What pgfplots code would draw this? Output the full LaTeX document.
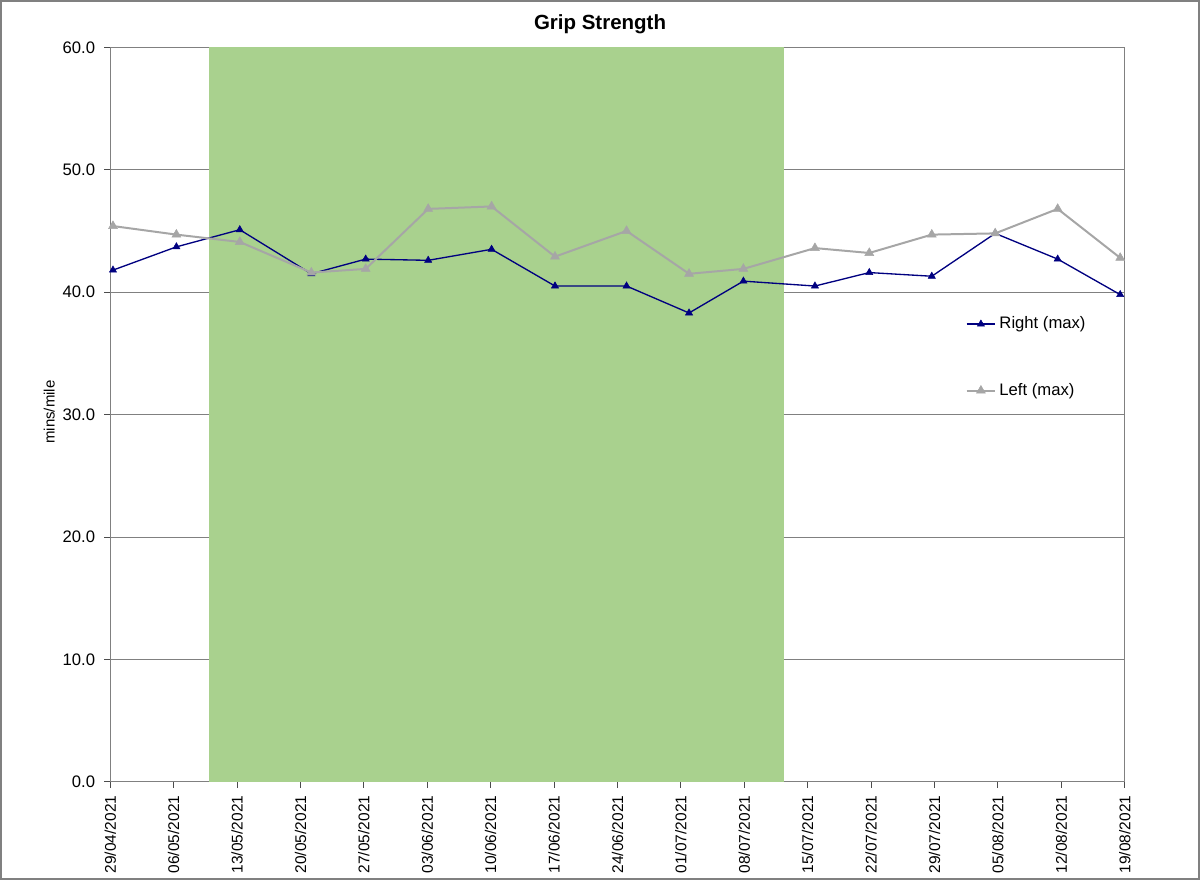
\documentclass[border=0pt]{standalone}
\usepackage{fontspec}
\setmainfont{Liberation Sans}
\usepackage{pgfplots}
\pgfplotsset{compat=1.18}

\definecolor{bandgreen}{HTML}{A9D18E}
\definecolor{rightblue}{HTML}{000080}
\definecolor{leftgray}{HTML}{A6A6A6}
\definecolor{gridgray}{HTML}{808080}

\begin{document}
\begin{tikzpicture}
\begin{axis}[
  name=main,
  width=609pt, height=441pt, scale only axis,
  xmin=0, xmax=112,
  ymin=0, ymax=60,
  clip=false,
  axis line style={draw=gridgray, line width=0.7pt},
  xtick={0,7,...,112},
  xticklabels={29/04/2021,06/05/2021,13/05/2021,20/05/2021,27/05/2021,
    03/06/2021,10/06/2021,17/06/2021,24/06/2021,01/07/2021,08/07/2021,
    15/07/2021,22/07/2021,29/07/2021,05/08/2021,12/08/2021,19/08/2021},
  ytick={0,10,...,60},
  tick align=outside,
  xtick pos=bottom, ytick pos=left,
  major tick length=3.6pt,
  tick style={draw=black!70, line width=0.6pt},
  ymajorgrids,
  major grid style={draw=gridgray, line width=0.6pt},
  /pgf/number format/assume math mode=true,
  yticklabel={\pgfmathprintnumber[fixed, fixed zerofill, precision=1]{\tick}},
  yticklabel style={font=\fontsize{10}{12}\selectfont, xshift=-2pt},
  xticklabel style={font=\fontsize{9.3}{11}\selectfont, rotate=90, anchor=east, inner sep=4.5pt},
  ylabel={mins/mile},
  ylabel style={font=\fontsize{9}{11}\selectfont, at={(axis description cs:-0.0601,0.5034)}, anchor=center},
  legend style={
    at={(axis description cs:0.838,0.6426)}, anchor=north west,
    draw=none, fill=none,
    font=\fontsize{10}{12}\selectfont,
    row sep=27.2pt,
  },
  legend cell align=left,
]

% shaded period
\addplot[draw=none, fill=bandgreen, forget plot] coordinates {
  (10.85,0) (10.85,60) (74.33,60) (74.33,0)
} -- cycle;

% grid lines are hidden by the band, so redraw them either side of it
\addplot[gridgray, line width=0.6pt, forget plot, no markers] coordinates {(0,10) (10.85,10)};
\addplot[gridgray, line width=0.6pt, forget plot, no markers] coordinates {(74.33,10) (112,10)};
\addplot[gridgray, line width=0.6pt, forget plot, no markers] coordinates {(0,20) (10.85,20)};
\addplot[gridgray, line width=0.6pt, forget plot, no markers] coordinates {(74.33,20) (112,20)};
\addplot[gridgray, line width=0.6pt, forget plot, no markers] coordinates {(0,30) (10.85,30)};
\addplot[gridgray, line width=0.6pt, forget plot, no markers] coordinates {(74.33,30) (112,30)};
\addplot[gridgray, line width=0.6pt, forget plot, no markers] coordinates {(0,40) (10.85,40)};
\addplot[gridgray, line width=0.6pt, forget plot, no markers] coordinates {(74.33,40) (112,40)};
\addplot[gridgray, line width=0.6pt, forget plot, no markers] coordinates {(0,50) (10.85,50)};
\addplot[gridgray, line width=0.6pt, forget plot, no markers] coordinates {(74.33,50) (112,50)};

\addplot[rightblue, line width=0.8pt, mark=triangle*, mark size=2.5pt,
  mark options={fill=rightblue, draw=rightblue, line width=0.3pt}] table {
x     y
0.3   41.8
7.3   43.7
14.3  45.1
22.2  41.5
28.2  42.7
35.1  42.6
42.1  43.5
49.1  40.5
57.0  40.5
63.9  38.3
69.9  40.9
77.8  40.5
83.8  41.6
90.7  41.3
97.7  44.8
104.6 42.7
111.5 39.8
};
\addlegendentry{Right (max)}

\addplot[leftgray, line width=1.2pt, mark=triangle*, mark size=3.1pt,
  mark options={fill=leftgray, draw=leftgray, line width=0.3pt}] table {
x     y
0.3   45.4
7.3   44.7
14.3  44.1
22.2  41.6
28.2  41.9
35.1  46.8
42.1  47.0
49.1  42.9
57.0  45.0
63.9  41.5
69.9  41.9
77.8  43.6
83.8  43.2
90.7  44.7
97.7  44.8
104.6 46.8
111.5 42.8
};
\addlegendentry{Left (max)}

\node[anchor=base, font=\bfseries\fontsize{12.3}{14}\selectfont]
  at (axis description cs:0.4828,1) [yshift=10.4pt] {Grip Strength};
\end{axis}

\draw[gridgray, line width=1pt]
  ([shift={(-65.7pt,-58.5pt)}]main.south west) rectangle ([shift={(44.7pt,27.9pt)}]main.north east);
\end{tikzpicture}
\end{document}
